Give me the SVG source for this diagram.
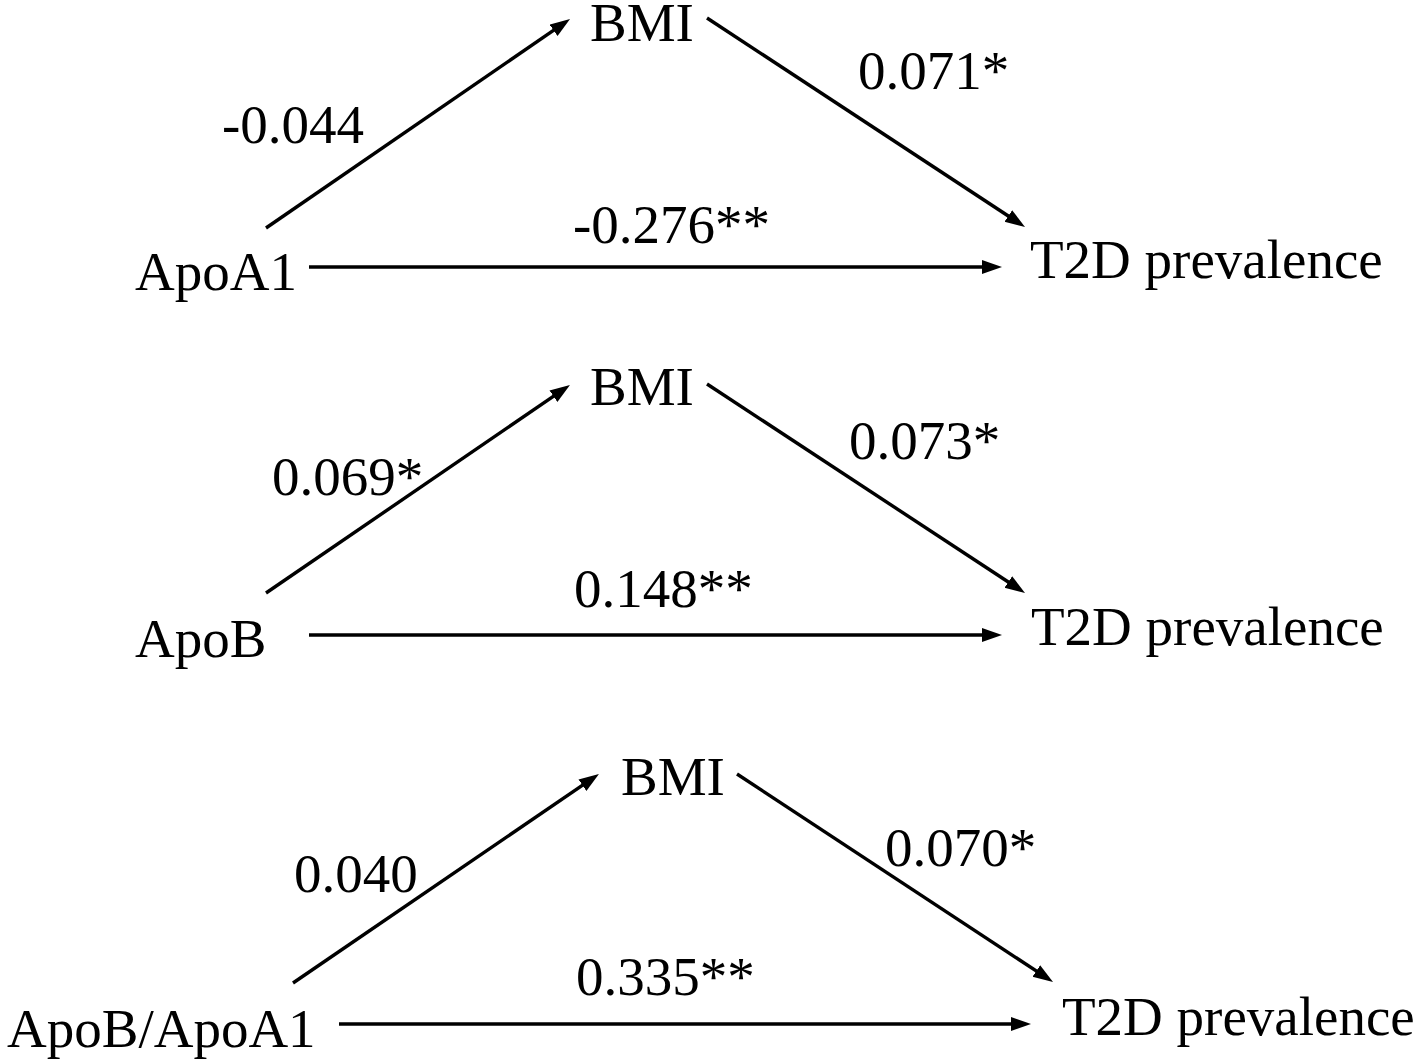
<svg xmlns="http://www.w3.org/2000/svg" width="1418" height="1063" viewBox="0 0 1418 1063">
<style>
text{font-family:"Liberation Serif","Times New Roman",serif;font-size:55px;fill:#000}
.c{stroke:#000;stroke-width:3.4;fill:none;marker-end:url(#ah)}
</style>
<defs>
<marker id="ah" markerUnits="userSpaceOnUse" markerWidth="22" markerHeight="16" refX="14" refY="7" orient="auto">
<path d="M0,0 L20,7 L0,14 z" fill="#000"/>
</marker>
</defs>
<rect width="1418" height="1063" fill="#fff"/>
<g id="connectors">
<line class="c" x1="266" y1="228" x2="565.1" y2="22.4"/>
<line class="c" x1="707" y1="18" x2="1020" y2="223.7"/>
<line class="c" x1="309" y1="267" x2="996" y2="267"/>
<line class="c" x1="266" y1="593" x2="565" y2="388.4"/>
<line class="c" x1="707" y1="384" x2="1020" y2="589.7"/>
<line class="c" x1="309" y1="635" x2="996" y2="635"/>
<line class="c" x1="293" y1="983" x2="594" y2="777.4"/>
<line class="c" x1="737" y1="774" x2="1048" y2="978.7"/>
<line class="c" x1="339" y1="1024" x2="1025" y2="1024"/>
</g>
<g id="labels">
<text x="222" y="143">-0.044</text>
<text x="858" y="89">0.071*</text>
<text x="573" y="243">-0.276**</text>
<text x="272" y="495">0.069*</text>
<text x="849" y="459">0.073*</text>
<text x="574" y="607">0.148**</text>
<text x="294" y="892">0.040</text>
<text x="885" y="866">0.070*</text>
<text x="576" y="995">0.335**</text>
</g>
<g id="bmi1"><text x="590" y="41">BMI</text></g>
<g id="apoa1"><text x="135" y="290">ApoA1</text></g>
<g id="t2d1"><text x="1030" y="278">T2D prevalence</text></g>
<g id="bmi2"><text x="590" y="405">BMI</text></g>
<g id="apob"><text x="135" y="657">ApoB</text></g>
<g id="t2d2"><text x="1031" y="645">T2D prevalence</text></g>
<g id="bmi3"><text x="621" y="795">BMI</text></g>
<g id="ratio"><text x="7" y="1047">ApoB/ApoA1</text></g>
<g id="t2d3"><text x="1062" y="1035">T2D prevalence</text></g>
</svg>
